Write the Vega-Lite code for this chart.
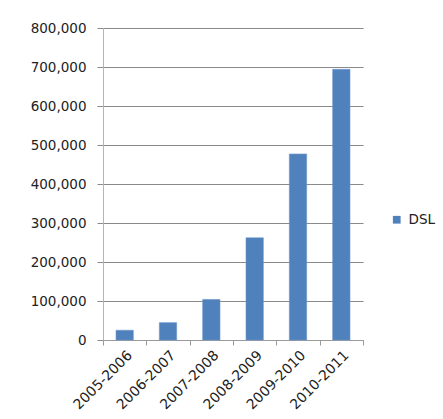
{
  "$schema": "https://vega.github.io/schema/vega-lite/v6.json",
  "autosize": {"type": "none"},
  "padding": {"left": 103, "top": 28, "right": 80, "bottom": 79},
  "width": 260,
  "height": 312,
  "background": "white",
  "data": {
    "values": [
      {"period": "2005-2006", "value": 25000, "series": "DSL"},
      {"period": "2006-2007", "value": 44500, "series": "DSL"},
      {"period": "2007-2008", "value": 104000, "series": "DSL"},
      {"period": "2008-2009", "value": 262000, "series": "DSL"},
      {"period": "2009-2010", "value": 477000, "series": "DSL"},
      {"period": "2010-2011", "value": 694000, "series": "DSL"}
    ]
  },
  "mark": {"type": "bar", "width": {"band": 0.4}, "stroke": "#6f97c9", "strokeWidth": 0.6},
  "encoding": {
    "x": {
      "field": "period",
      "type": "nominal",
      "sort": null,
      "scale": {"paddingInner": 0, "paddingOuter": 0},
      "axis": {
        "title": null,
        "labelAngle": -45,
        "tickBand": "extent",
        "ticks": true,
        "tickSize": 5,
        "tickColor": "#9a9a9a",
        "domainColor": "#9a9a9a",
        "labelPadding": 3,
        "labelFont": "DejaVu Sans",
        "labelFontSize": 14,
        "labelColor": "#222222",
        "grid": false
      }
    },
    "y": {
      "field": "value",
      "type": "quantitative",
      "scale": {"domain": [0, 800000], "nice": false},
      "axis": {
        "title": null,
        "values": [0, 100000, 200000, 300000, 400000, 500000, 600000, 700000, 800000],
        "format": ",.0f",
        "grid": true,
        "gridColor": "#8a8a8a",
        "gridWidth": 1,
        "tickSize": 6,
        "tickColor": "#8a8a8a",
        "domainColor": "#b5b5b5",
        "labelPadding": 11,
        "labelFont": "DejaVu Sans",
        "labelFontSize": 13.5,
        "labelColor": "#222222"
      }
    },
    "color": {
      "field": "series",
      "type": "nominal",
      "scale": {"range": ["#4F81BD"]},
      "legend": {
        "title": null,
        "orient": "none",
        "legendX": 287,
        "legendY": 185,
        "symbolType": "square",
        "symbolSize": 60,
        "symbolStrokeWidth": 0,
        "labelFont": "DejaVu Sans",
        "labelFontSize": 13.5,
        "labelColor": "#222222",
        "labelOffset": 5
      }
    }
  },
  "config": {"view": {"stroke": null}}
}
